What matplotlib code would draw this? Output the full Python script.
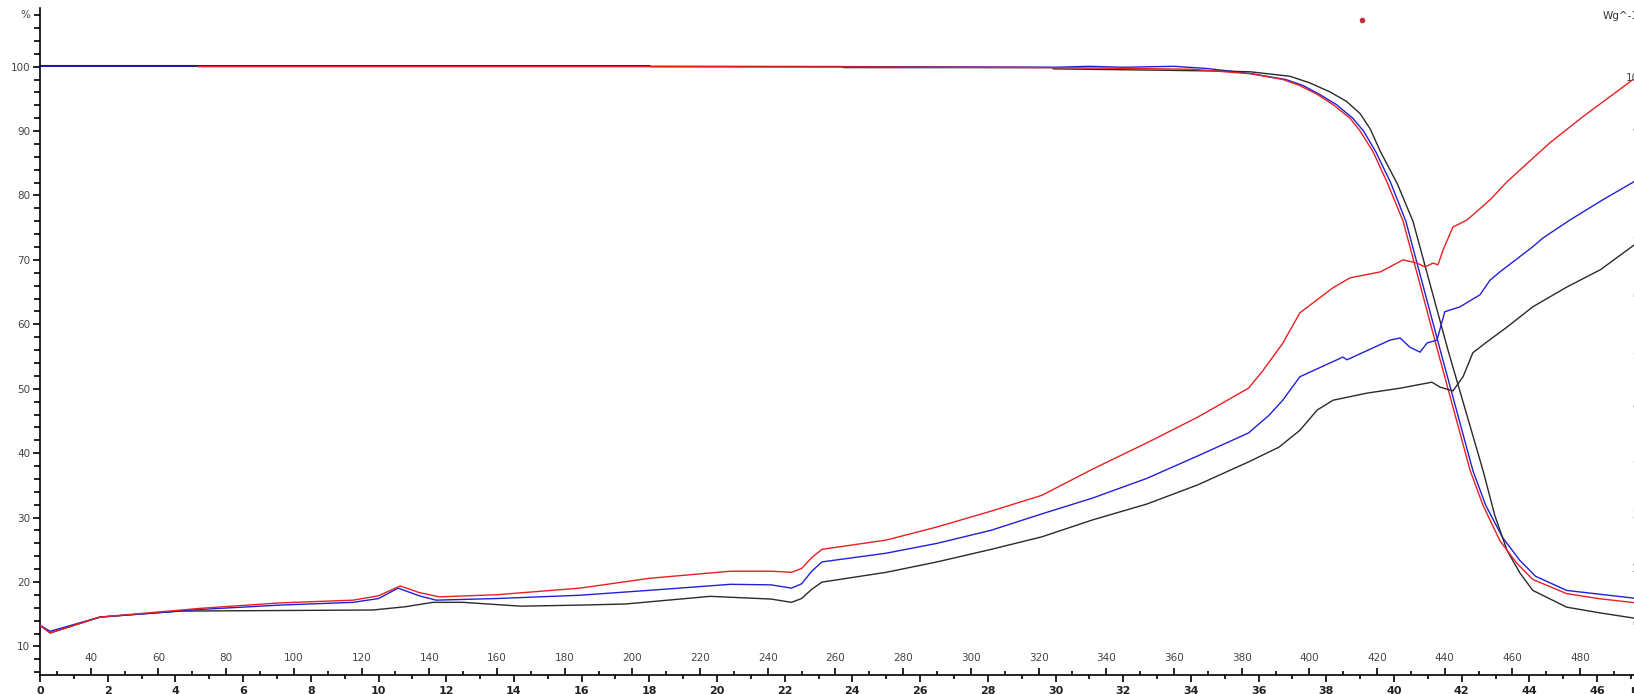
import matplotlib.pyplot as plt
from matplotlib.ticker import MultipleLocator

# TGA mass curves (left axis, %)
tga_red_t = [4.67, 10, 18, 24, 30, 34, 35.75, 36.72, 37.2, 37.73, 38.2, 38.7, 39.0, 39.38, 39.8,
             40.27, 41.27, 42.25, 42.63, 43.13, 43.63, 44.1, 45.1, 46.09, 47.09]
tga_red_p = [100.0, 100.0, 100.0, 99.95, 99.85, 99.6, 98.9, 98.0, 97.1, 95.7, 94.1, 92.0, 90.0,
             86.8, 82.0, 76.0, 56.3, 37.3, 31.9, 26.4, 22.9, 20.4, 18.2, 17.4, 16.8]
tga_blue_t = [0, 10, 18, 24, 30, 31, 32, 33.5, 34.5, 35.8, 36.8, 37.3, 37.8, 38.3, 38.78, 39.1,
              39.46, 39.9, 40.35, 41.35, 42.33, 42.71, 43.21, 43.71, 44.18, 45.1, 46.09, 47.09]
tga_blue_p = [100.05, 100.05, 100.05, 100.0, 99.9, 100.05, 99.9, 100.05, 99.7, 98.9, 98.0, 97.1,
              95.7, 94.1, 92.0, 90.0, 86.8, 82.0, 76.0, 56.3, 37.3, 31.9, 26.9, 23.4, 20.9, 18.7,
              18.1, 17.5]
tga_black_t = [0, 18.0, 18.05, 23.7, 23.75, 29.9, 29.95, 33, 35.0, 35.75, 36.93, 37.5, 38.1, 38.6,
               39.0, 39.3, 39.6, 40.1, 40.56, 41.6, 42.63, 42.98, 43.34, 43.72, 44.1, 45.1, 46.1,
               47.09]
tga_black_p = [100.15, 100.15, 100.0, 100.0, 99.85, 99.85, 99.65, 99.45, 99.3, 99.2, 98.5, 97.5,
               96.1, 94.6, 92.7, 90.3, 86.8, 81.8, 76.0, 55.9, 37.3, 30.3, 24.9, 21.4, 18.7, 16.1,
               15.2, 14.4]

# DSC heat flow curves (right axis, W/g)
dsc_red_t = [0, 0.3, 1.77, 4.73, 7.09, 9.25, 10.0, 10.64, 11.2, 11.8, 13.5, 15.95, 18, 20.4, 21.6,
             22.2, 22.5, 22.8, 23.1, 25.0, 26.5, 28.1, 29.6, 31.1, 32.7, 34.2, 35.7, 36.1, 36.7,
             37.22, 38.2, 38.7, 39.6, 40.27, 40.68, 40.92, 41.15, 41.3, 41.45, 41.74, 42.16,
             42.84, 43.34, 44.6, 45.58, 47.06]
dsc_red_v = [-0.04, -0.18, 0.11, 0.27, 0.37, 0.42, 0.5, 0.68, 0.56, 0.48, 0.52, 0.64, 0.82, 0.95,
             0.95, 0.93, 1.0, 1.2, 1.35, 1.52, 1.76, 2.05, 2.34, 2.82, 3.30, 3.77, 4.30, 4.6, 5.11,
             5.68, 6.14, 6.32, 6.43, 6.65, 6.59, 6.52, 6.59, 6.56, 6.83, 7.25, 7.38,
             7.75, 8.08, 8.79, 9.27, 9.95]
dsc_blue_t = [0, 0.3, 1.77, 4.73, 7.09, 9.25, 10.0, 10.58, 11.2, 11.7, 13.5, 15.95, 18, 20.4, 21.6,
              22.2, 22.5, 22.8, 23.1, 25.0, 26.5, 28.1, 29.6, 31.1, 32.7, 34.2, 35.7, 36.3, 36.7,
              37.22, 38.49, 38.61, 39.88, 40.18, 40.47, 40.77, 40.98, 41.27, 41.5, 41.95, 42.54,
              42.84, 43.13, 44.1, 44.4, 45.2, 46.17, 47.09]
dsc_blue_v = [-0.04, -0.15, 0.11, 0.25, 0.33, 0.38, 0.45, 0.64, 0.5, 0.42, 0.45, 0.51, 0.6, 0.71,
              0.7, 0.64, 0.72, 0.95, 1.12, 1.28, 1.46, 1.70, 2.0, 2.29, 2.65, 3.06, 3.48, 3.8, 4.07,
              4.51, 4.87, 4.82, 5.18, 5.22, 5.05, 4.96, 5.13, 5.18, 5.70, 5.79, 6.01,
              6.28, 6.43, 6.89, 7.05, 7.38, 7.75, 8.08]
dsc_black_t = [0, 0.3, 1.77, 4.14, 7.0, 9.84, 10.8, 11.6, 12.5, 14.2, 16, 17.3, 19.8, 21.6, 22.2,
               22.5, 22.8, 23.1, 25.0, 26.5, 28.1, 29.6, 31.1, 32.7, 34.2, 35.7, 36.6, 37.22,
               37.73, 38.2, 39.2, 40.18, 41.12, 41.36, 41.74, 42.04, 42.33, 42.75, 43.34, 44.1,
               45.1, 46.1, 47.09]
dsc_black_v = [-0.04, -0.18, 0.11, 0.22, 0.23, 0.24, 0.3, 0.38, 0.38, 0.31, 0.33, 0.35, 0.49, 0.44,
               0.38, 0.45, 0.62, 0.75, 0.93, 1.12, 1.35, 1.58, 1.89, 2.18, 2.53, 2.95, 3.22, 3.53,
               3.90, 4.08, 4.21, 4.30, 4.41, 4.32, 4.25, 4.51, 4.95, 5.15, 5.42, 5.79,
               6.15, 6.47, 6.92]

marker_t = [39.05]
marker_p = [107.3]

time_ticks = list(range(0, 48, 2))
temp_ticks = list(range(40, 481, 20))
pct_ticks = list(range(10, 101, 10))
hf_ticks = list(range(0, 11))

plt.rcParams['font.family'] = ['DejaVu Sans']
fig = plt.figure(figsize=(16.34, 6.94), dpi=100)
ax = fig.add_axes([40 / 1634, 19 / 694, 1594 / 1634, 667 / 694])

ax.plot(tga_blue_t, tga_blue_p, color='#2020d8', lw=1.0)
ax.plot(tga_black_t, tga_black_p, color='#2a2a2a', lw=1.0)
ax.plot(tga_red_t, tga_red_p, color='#e82020', lw=1.0)
ax.plot(marker_t, marker_p, 'o', color='#c03040', ms=3)

ax.set_xlim(0, 47.09)
ax.set_ylim(5.57, 109.1)
for s in ['top', 'right']:
    ax.spines[s].set_visible(False)
ax.spines['left'].set_linewidth(1.2)
ax.spines['bottom'].set_linewidth(1.2)

ax.set_yticks(pct_ticks)
ax.yaxis.set_minor_locator(MultipleLocator(2))
ax.tick_params(axis='y', which='major', length=5, width=1.2, labelsize=7.5,
               labelcolor='#444444', pad=2)
ax.tick_params(axis='y', which='minor', length=4, width=1.2)

ax.set_xticks(time_ticks)
ax.xaxis.set_minor_locator(MultipleLocator(1))
ax.tick_params(axis='x', which='major', length=5, width=1.2, labelsize=8, pad=3)
ax.tick_params(axis='x', which='minor', length=3, width=1.2)
for lab in ax.get_xticklabels():
    lab.set_fontweight('bold')
    lab.set_color('#222222')

sec = ax.secondary_xaxis('bottom', functions=(lambda t: 25 + 10 * t, lambda T: (T - 25) / 10))
sec.set_xticks(temp_ticks)
sec.xaxis.set_minor_locator(MultipleLocator(10))
sec.tick_params(axis='x', which='major', direction='in', length=5, width=1.2,
                labelsize=7.5, labelcolor='#444444', pad=-16)
sec.tick_params(axis='x', which='minor', direction='in', length=3, width=1.2)
sec.spines['bottom'].set_visible(False)

ax2 = ax.twinx()
ax2.plot(dsc_black_t, dsc_black_v, color='#2a2a2a', lw=1.0)
ax2.plot(dsc_blue_t, dsc_blue_v, color='#2020d8', lw=1.0)
ax2.plot(dsc_red_t, dsc_red_v, color='#e82020', lw=1.0)
ax2.set_ylim(-0.95, 11.26)
ax2.set_yticks(hf_ticks)
ax2.tick_params(axis='y', length=0, pad=3.5, labelsize=7.5, labelcolor='#444444')
for lab in ax2.get_yticklabels():
    lab.set_ha('right')
for s in ax2.spines.values():
    s.set_visible(False)

fig.text(25 / 1634, 1 - 15 / 694, '%', fontsize=7.5, color='#444444', ha='center', va='center')
fig.text(1603 / 1634, 1 - 16 / 694, 'Wg^-1', fontsize=7.5, color='#333333', ha='left', va='center')
fig.text(1630 / 1634, 1 - 690 / 694, 'min', fontsize=8, fontweight='bold', color='#222222',
         ha='left', va='center')

fig.savefig('out.png', dpi=100)
